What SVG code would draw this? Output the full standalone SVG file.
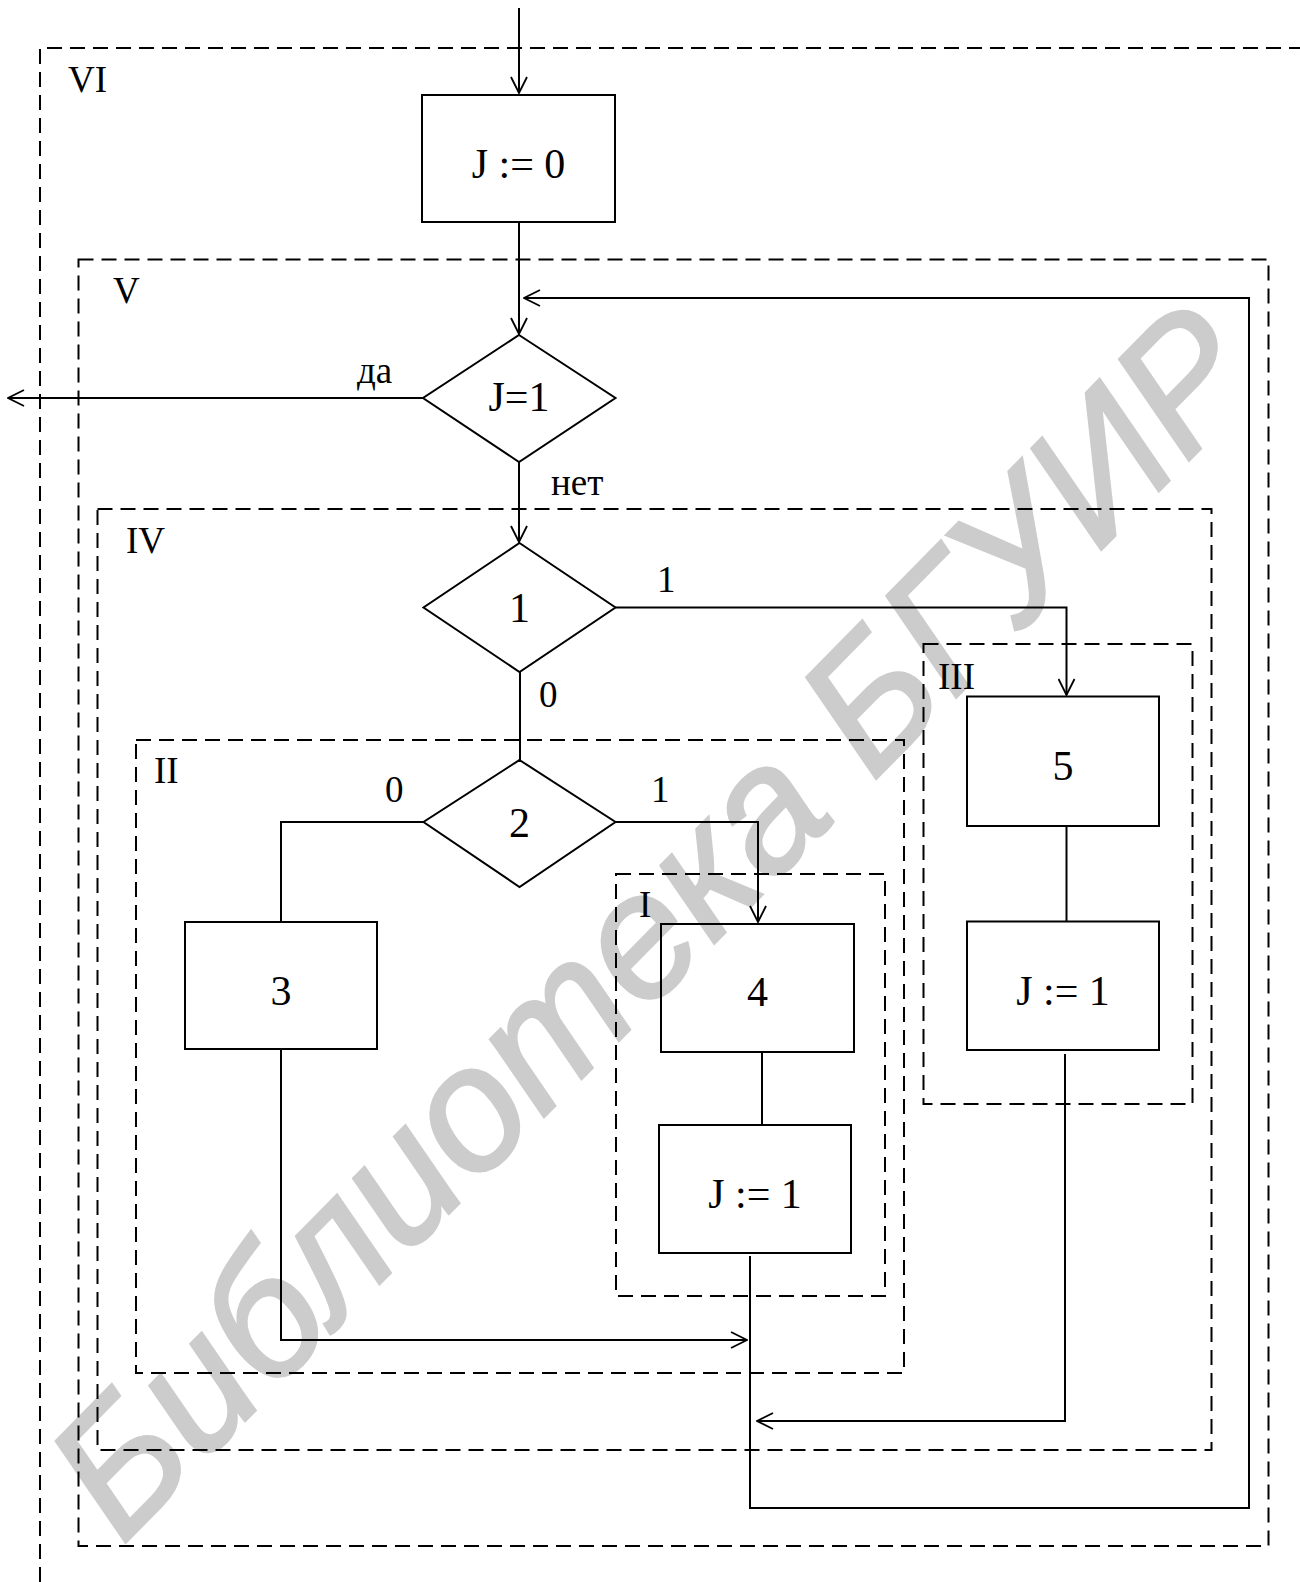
<svg xmlns="http://www.w3.org/2000/svg" width="1300" height="1582" viewBox="0 0 1300 1582">
<defs>
<marker id="arr" viewBox="0 0 18 18" refX="17" refY="9" markerWidth="18" markerHeight="18" markerUnits="userSpaceOnUse" orient="auto">
<path d="M1,1 L17,9 L1,17" fill="none" stroke="#000" stroke-width="1.8"/>
</marker>
<style>
.box{fill:none;stroke:#000;stroke-width:2}
.dash{fill:none;stroke:#000;stroke-width:2;stroke-dasharray:15 8}
.con{fill:none;stroke:#000;stroke-width:2}
.arr{marker-end:url(#arr)}
.t{font-family:"Liberation Serif","Times New Roman",serif;font-size:42px;fill:#000;text-anchor:middle}
.lbl{font-family:"Liberation Serif","Times New Roman",serif;font-size:37px;fill:#000}
.wm{font-family:"Liberation Sans",Arial,sans-serif;font-style:italic;font-size:175px;fill:#cccccc;stroke:#cccccc;stroke-width:3}
</style>
</defs>
<rect width="1300" height="1582" fill="#fff"/>
<text class="wm" transform="translate(122,1546) rotate(-45.5)">Библиотека БГУИР</text>

<g id="region-VI"><path class="dash" d="M40,1582 V48 H1300"/><text class="lbl" x="68" y="92">VI</text></g>
<g id="region-V"><rect class="dash" x="78.5" y="259.5" width="1190" height="1286.5"/><text class="lbl" x="113" y="303">V</text></g>
<g id="region-IV"><rect class="dash" x="97.5" y="509" width="1114" height="941"/><text class="lbl" x="126" y="553">IV</text></g>
<g id="region-III"><rect class="dash" x="923.5" y="644" width="269" height="460"/><text class="lbl" x="938" y="689">III</text></g>
<g id="region-II"><rect class="dash" x="136" y="740" width="768" height="633"/><text class="lbl" x="154" y="783">II</text></g>
<g id="region-I"><rect class="dash" x="616" y="874" width="269" height="422"/><text class="lbl" x="639" y="917">I</text></g>

<g id="connectors">
<path class="con arr" d="M519,8 V93"/>
<path class="con arr" d="M519,222 V334"/>
<path class="con arr" d="M423,398 H8"/>
<path class="con arr" d="M519,462 V542"/>
<path class="con arr" d="M615.5,607.5 H1066.5 V695"/>
<path class="con" d="M520,672 V760"/>
<path class="con" d="M423.5,822 H281 V922"/>
<path class="con arr" d="M615.5,822 H758 V922"/>
<path class="con" d="M762,1052 V1125"/>
<path class="con" d="M1066.5,826 V921.5"/>
<path class="con arr" d="M281,1050 V1340 H747"/>
<path class="con arr" d="M1065,1054 V1421 H757"/>
<path class="con arr" d="M750,1256 V1508 H1249 V298 H524"/>
<text class="lbl" x="357" y="383">да</text>
<text class="lbl" x="551" y="495">нет</text>
<text class="lbl" x="657" y="592">1</text>
<text class="lbl" x="539" y="707">0</text>
<text class="lbl" x="385" y="802">0</text>
<text class="lbl" x="651" y="802">1</text>
</g>

<g id="n-j0"><rect class="box" x="422" y="95" width="193" height="127"/><text class="t" x="518.5" y="178">J := 0</text></g>
<g id="n-cond-j1"><polygon class="box" points="519,335 615.5,398 519,462 423,398"/><text class="t" x="519" y="411">J=1</text></g>
<g id="n-d1"><polygon class="box" points="519.5,543 615.5,607.5 519.5,672 423.5,607.5"/><text class="t" x="519.5" y="622">1</text></g>
<g id="n-d2"><polygon class="box" points="519.5,760 615.5,822 519.5,887 423.5,822"/><text class="t" x="519.5" y="837">2</text></g>
<g id="n-3"><rect class="box" x="185" y="922" width="192" height="127"/><text class="t" x="281" y="1005">3</text></g>
<g id="n-4"><rect class="box" x="661" y="924" width="193" height="128"/><text class="t" x="757.5" y="1006">4</text></g>
<g id="n-j1a"><rect class="box" x="659" y="1125" width="192" height="128"/><text class="t" x="755" y="1208">J := 1</text></g>
<g id="n-5"><rect class="box" x="967" y="696.5" width="192" height="129.5"/><text class="t" x="1063" y="780">5</text></g>
<g id="n-j1b"><rect class="box" x="967" y="921.5" width="192" height="128.5"/><text class="t" x="1063" y="1005">J := 1</text></g>
</svg>
